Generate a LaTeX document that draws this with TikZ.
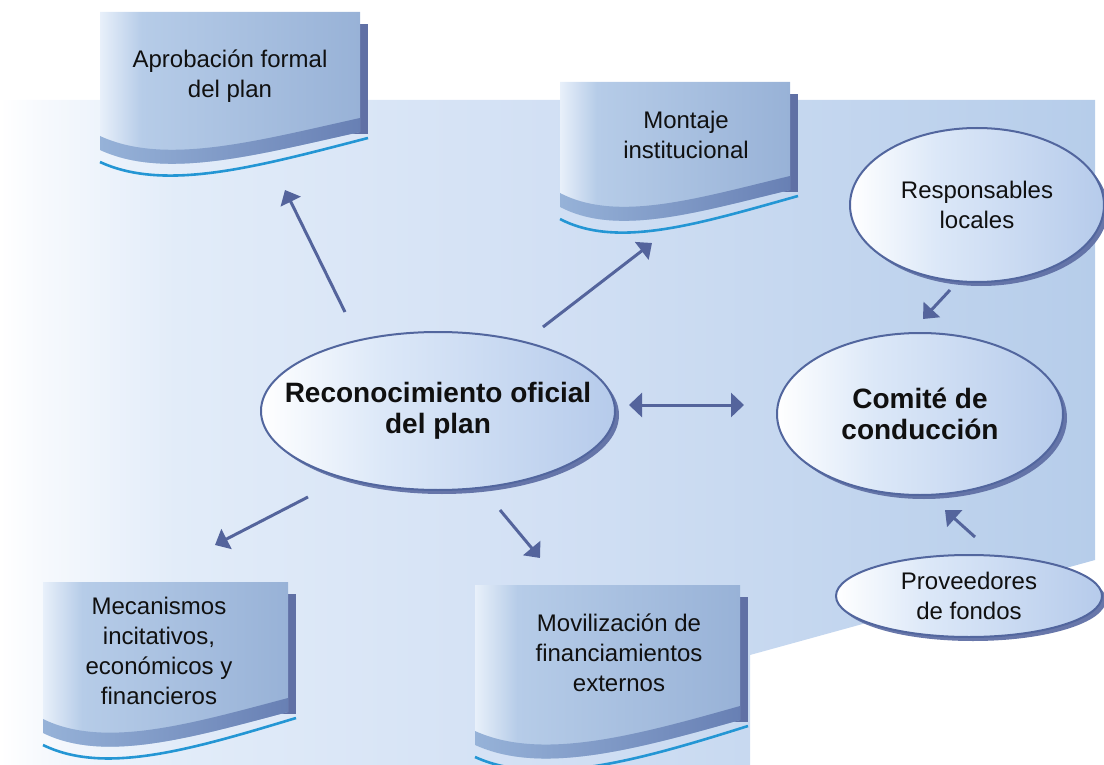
\documentclass[tikz,border=0pt]{standalone}
\usepackage{fontspec}
\setmainfont{Liberation Sans}
\usetikzlibrary{arrows.meta,shapes.geometric,shadows}

% palette
\definecolor{bgA}{RGB}{246,249,253}
\definecolor{bgB}{RGB}{226,236,249}
\definecolor{bgC}{RGB}{210,224,244}
\definecolor{bgD}{RGB}{182,205,234}
\definecolor{boxL}{RGB}{232,240,250}
\definecolor{boxM}{RGB}{182,204,232}
\definecolor{boxR}{RGB}{152,178,215}
\definecolor{bandL}{RGB}{150,178,216}
\definecolor{bandR}{RGB}{104,128,180}
\definecolor{shadowc}{RGB}{96,112,165}
\definecolor{wavec}{RGB}{36,150,212}
\definecolor{ellM}{RGB}{220,232,248}
\definecolor{ellR}{RGB}{182,203,235}
\definecolor{edgec}{RGB}{82,102,158}
\definecolor{arrowc}{RGB}{84,100,156}
\definecolor{inkc}{RGB}{16,16,16}

\pgfdeclarehorizontalshading{bgshade}{100bp}{color(0bp)=(white); color(25bp)=(white); color(27bp)=(bgA); color(33bp)=(bgB); color(50bp)=(bgC); color(75bp)=(bgD); color(100bp)=(bgD)}
\pgfdeclarehorizontalshading{boxshade}{100bp}{color(0bp)=(boxL); color(25bp)=(boxL); color(33bp)=(boxM); color(75bp)=(boxR); color(100bp)=(boxR)}
\pgfdeclarehorizontalshading{ellshade}{100bp}{color(0bp)=(white); color(25bp)=(white); color(42bp)=(ellM); color(75bp)=(ellR); color(100bp)=(ellR)}

% folded sheet with a wavy lower edge
% #1 left, #2 top, #3 width, #4 height at the left end, #5 rise at the right end
\newcommand\wavedoc[5]{%
  \begin{scope}[shift={(#1,#2)}]
    \fill[shadowc] (#3-8,12) rectangle (#3+8,#4-#5+2);
    \shade[shading=boxshade] (0,0) -- (#3,0) -- (#3,#4-#5)
      .. controls (0.6*#3,#4+5) and (0.25*#3,#4+30) .. (0,#4) -- cycle;
    \shade[left color=bandL, right color=bandR]
      (0,#4) .. controls (0.25*#3,#4+30) and (0.6*#3,#4+5) .. (#3,#4-#5)
      -- (#3,#4-#5-14) .. controls (0.6*#3,#4-9) and (0.25*#3,#4+16) .. (0,#4-14) -- cycle;
    \draw[wavec, line width=2.6pt]
      (0,#4+12) .. controls (0.25*#3,#4+42) and (0.6*#3,#4+17) .. (#3+8,#4-#5+6);
  \end{scope}}

\begin{document}
\begin{tikzpicture}[x=1pt,y=-1pt,
  doctext/.style={align=center, text=inkc, inner sep=0pt,
    font=\fontsize{24}{30}\selectfont},
  oval/.style={ellipse, draw=edgec, line width=2pt, shading=ellshade,
    inner sep=0pt, text=inkc, align=center,
    drop shadow={shadow xshift=4pt, shadow yshift=-4pt, fill=shadowc, opacity=0.95}},
  bigtext/.style={font=\fontsize{28}{31}\selectfont\bfseries},
  smalltext/.style={font=\fontsize{24}{29.5}\selectfont},
  arr/.style={draw=arrowc, line width=3pt, -{Triangle[length=13pt,width=22pt]}},
  dblarr/.style={draw=arrowc, line width=3pt, {Triangle[length=13pt,width=24pt]}-{Triangle[length=13pt,width=24pt]}}
]
\useasboundingbox (0,0) rectangle (1104,765);

% backdrop
\shade[shading=bgshade] (0,100) -- (1095,100) -- (1095,560) -- (750,655)
  -- (750,765) -- (0,765) -- cycle;

% sheets
\wavedoc{100}{12}{260}{138}{18}
\node[doctext] (aprob) at (230,76) {Aprobación formal\\del plan};

\wavedoc{560}{82}{230}{125}{17}
\node[doctext] (montaje) at (686,135) {Montaje\\institucional};

\wavedoc{43}{582}{245}{151}{21}
\node[doctext] (mecan) at (159,651) {Mecanismos\\incitativos,\\económicos y\\financieros};

\wavedoc{475}{585}{265}{160}{25}
\node[doctext] (moviliz) at (619,653) {Movilización de\\financiamientos\\externos};

% ovals (negative inner sep keeps the outline at the given size)
\node[oval, bigtext, inner xsep=-32pt, minimum width=354, minimum height=158] (reco) at (438,411)
  {Reconocimiento oficial\\del plan};
\node[oval, bigtext, minimum width=286, minimum height=162] (comite) at (920,414)
  {Comité de\\conducción};
\node[oval, smalltext, minimum width=254, minimum height=154] (resp) at (977,205)
  {Responsables\\locales};
\node[oval, smalltext, inner ysep=-4pt, minimum width=266, minimum height=82] (prov) at (969,596)
  {Proveedores\\de fondos};

% arrow ends
\coordinate (a1s) at (345,312); \coordinate (a1e) at (285,190);
\coordinate (a2s) at (543,327); \coordinate (a2e) at (652,243);
\coordinate (a4s) at (308,497); \coordinate (a4e) at (215,545);
\coordinate (a5s) at (500,510); \coordinate (a5e) at (540,558);
\coordinate (a6s) at (950,290); \coordinate (a6e) at (923,319);
\coordinate (a7s) at (975,537); \coordinate (a7e) at (945,510);

\draw[arr] (a1s) -- (a1e);
\draw[arr] (a2s) -- (a2e);
\draw[arr] (a4s) -- (a4e);
\draw[arr] (a5s) -- (a5e);
\draw[arr] (a6s) -- (a6e);
\draw[arr] (a7s) -- (a7e);
\draw[dblarr, shorten <=13pt, shorten >=32pt] ([yshift=6pt]reco.east) -- ([yshift=9pt]comite.west);
\end{tikzpicture}
\end{document}
